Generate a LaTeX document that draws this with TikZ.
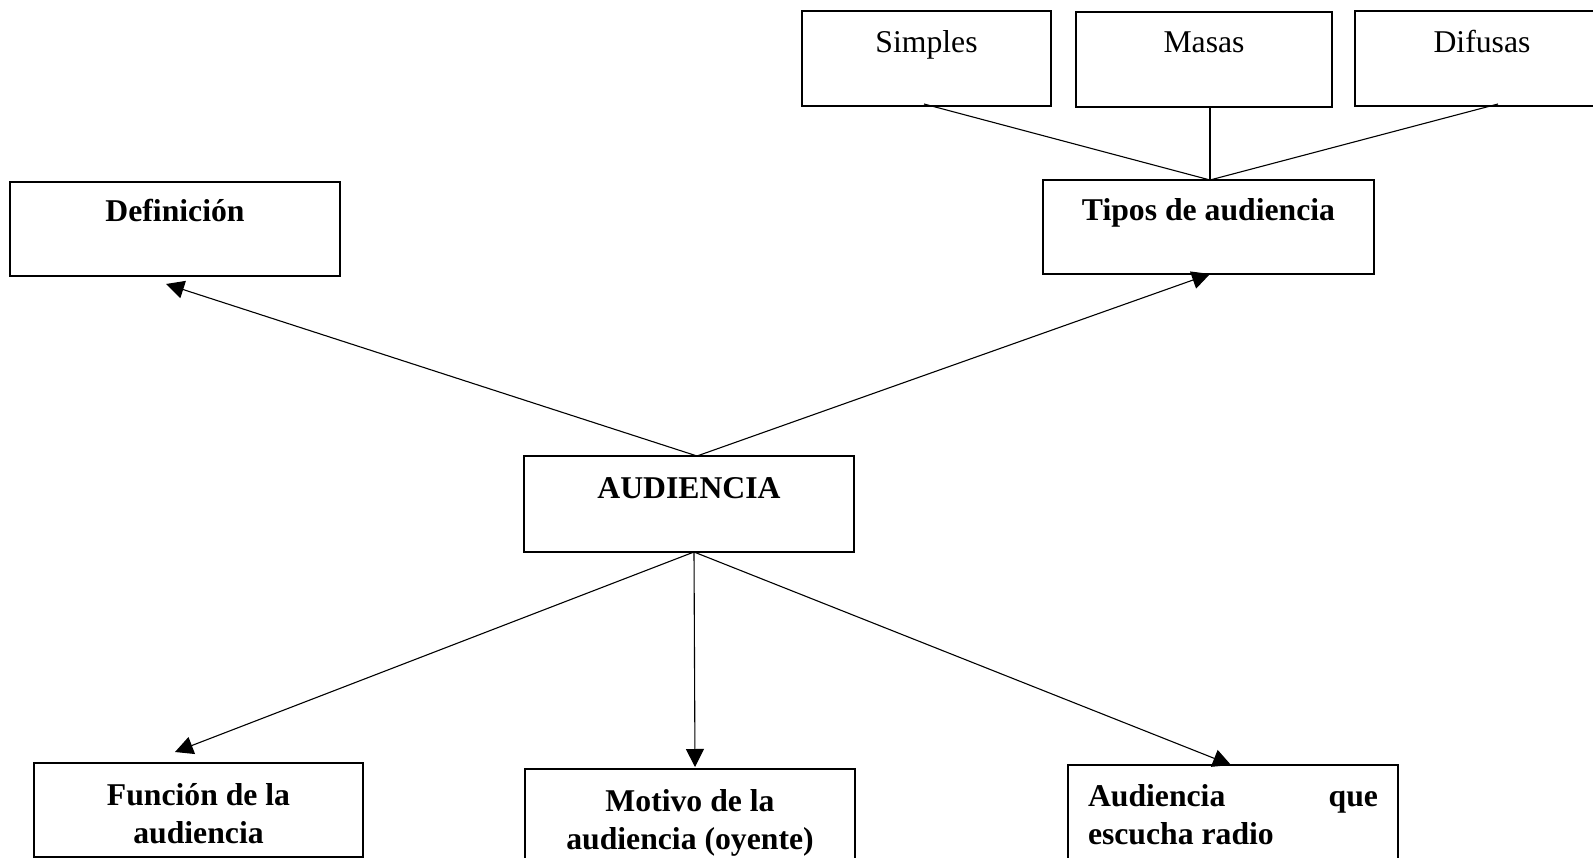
\documentclass[tikz,border=0pt]{standalone}
\usepackage{fontspec}
\setmainfont{Liberation Serif}
\usetikzlibrary{arrows.meta}
\tikzset{
  boxnode/.style={draw=black, line width=1.4pt, rectangle, anchor=north west, inner sep=0pt, outer sep=0pt,
    font=\fontsize{31.7pt}{38.5pt}\selectfont},
  conn/.style={line width=1.1pt},
  arr/.style={line width=1.1pt, -{Triangle[length=18pt,width=18pt]}}
}
\begin{document}
\begin{tikzpicture}[x=1pt,y=-1pt]
\useasboundingbox (0,0) rectangle (1593,858);
% top row
\node[boxnode, minimum width=249pt, minimum height=95pt, text height=42pt, text depth=53pt] (sim) at (802,11)
  {\parbox[t]{229pt}{\centering Simples}};
\node[boxnode, minimum width=256pt, minimum height=95pt, text height=41pt, text depth=54pt] (mas) at (1076,12)
  {\parbox[t]{236pt}{\centering Masas}};
\node[boxnode, minimum width=254pt, minimum height=95pt, text height=42pt, text depth=53pt] (dif) at (1355,11)
  {\parbox[t]{234pt}{\centering Difusas}};
% middle row
\node[boxnode, minimum width=330pt, minimum height=94pt, text height=40pt, text depth=54pt] (def) at (10,182)
  {\parbox[t]{310pt}{\centering\bfseries Definición}};
\node[boxnode, minimum width=331pt, minimum height=94pt, text height=41pt, text depth=53pt] (tip) at (1043,180)
  {\parbox[t]{311pt}{\centering\bfseries Tipos de audiencia}};
\node[boxnode, minimum width=330pt, minimum height=96pt, text height=42pt, text depth=54pt] (aud) at (524,456)
  {\parbox[t]{310pt}{\centering\bfseries AUDIENCIA}};
% bottom row
\node[boxnode, minimum width=329pt, minimum height=94pt, text height=42pt, text depth=52pt] (fun) at (34,763)
  {\parbox[t]{309pt}{\centering\bfseries Función de la\\audiencia}};
\node[boxnode, minimum width=330pt, minimum height=94pt, text height=42pt, text depth=52pt] (mot) at (525,769)
  {\parbox[t]{310pt}{\centering\bfseries Motivo de la\\audiencia (oyente)}};
\node[boxnode, minimum width=330pt, minimum height=94pt, text height=41pt, text depth=53pt] (aq) at (1068,765)
  {\parbox[t]{290pt}{\bfseries Audiencia\hfill que\\escucha radio}};
% connectors top
\draw[conn] ([xshift=-2.5pt,yshift=2pt]sim.south) -- ([xshift=1.5pt]tip.north);
\draw[conn] ([xshift=6pt]mas.south) -- ([xshift=1.5pt]tip.north);
\draw[conn] ([xshift=16pt,yshift=2pt]dif.south) -- ([xshift=1.5pt]tip.north);
% arrows
\draw[arr] ([xshift=8pt]aud.north) -- ([xshift=-9pt,yshift=-8pt]def.south);
\draw[arr] ([xshift=8pt]aud.north) -- ([xshift=1.5pt]tip.south);
\draw[arr] ([xshift=5pt]aud.south) -- ([xshift=-23.5pt,yshift=11pt]fun.north);
\draw[arr] ([xshift=5pt]aud.south) -- ([xshift=5pt,yshift=2pt]mot.north);
\draw[arr] ([xshift=5pt]aud.south) -- ([xshift=-2pt]aq.north);
\end{tikzpicture}
\end{document}
